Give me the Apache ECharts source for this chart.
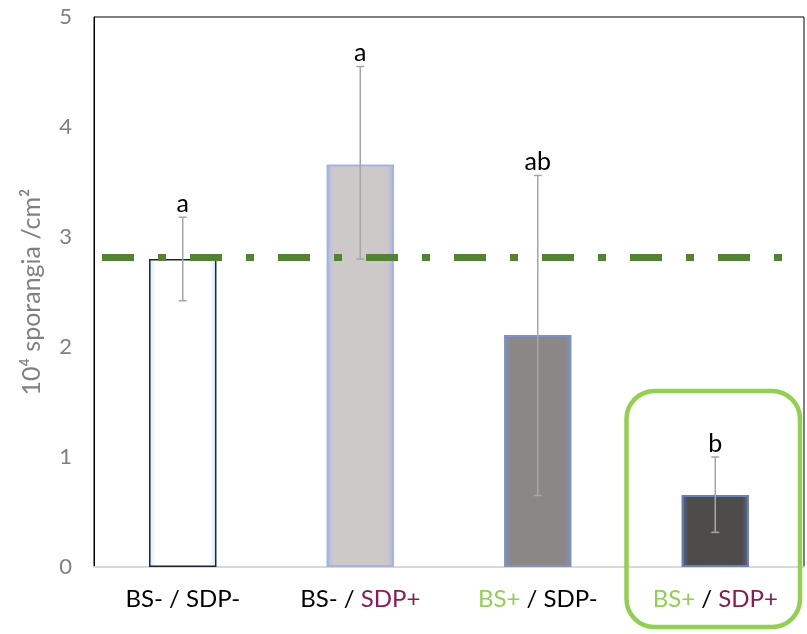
<!DOCTYPE html>
<html><head><meta charset="utf-8">
<script src="https://cdn.jsdelivr.net/npm/echarts@6/dist/echarts.min.js"></script>
<style>html,body{margin:0;padding:0;background:#fff}#c{width:807px;height:634px}</style>
</head><body><div id="c"></div>
<script>
const categories = ['BS- / SDP-', 'BS- / SDP+', 'BS+ / SDP-', 'BS+ / SDP+'];
const means = [2.80, 3.66, 2.11, 0.655];
const errLow = [2.42, 2.80, 0.65, 0.315];
const errHigh = [3.18, 4.55, 3.56, 1.00];
const letters = ['a', 'a', 'ab', 'b'];
const refLine = 2.82;
const yTicks = [0, 1, 2, 3, 4, 5];
const highlighted = 3;

const FONT = 'Lato, "Open Sans", sans-serif';
const barStyles = [
  {fill: ['#cfe6fb', '#ffffff', '#ffffff', '#cfe6fb'], border: '#1b2535', bw: 1.5},
  {fill: ['#a9b7e6', '#cdc9c8', '#cdc9c8', '#a9b7e6'], border: '#a3b3e4', bw: 2},
  {fill: ['#8091bd', '#8a8786', '#8a8786', '#8091bd'], border: '#7f92c2', bw: 2},
  {fill: ['#5c6b92', '#4e4c4b', '#4e4c4b', '#5c6b92'], border: '#6b80b2', bw: 2}
];
function grad(c) {
  return new echarts.graphic.LinearGradient(0, 0, 1, 0, [
    {offset: 0, color: c[0]}, {offset: 0.1, color: c[1]},
    {offset: 0.9, color: c[2]}, {offset: 1, color: c[3]}]);
}

function catLabel(v) {
  const parts = v.split(' / ');
  const a = parts[0].indexOf('+') >= 0 ? '{g|' + parts[0] + '}' : '{k|' + parts[0] + '}';
  const b = parts[1].indexOf('+') >= 0 ? '{p|' + parts[1] + '}' : '{k|' + parts[1] + '}';
  return a + '{k| / }' + b;
}

const chart = echarts.init(document.getElementById('c'), null, {renderer: 'canvas'});
const option = {
  animation: false,
  grid: {left: 94, right: 3, top: 17, bottom: 67, show: true, borderColor: '#000', borderWidth: 1, backgroundColor: 'transparent'},
  xAxis: {
    type: 'category', data: categories,
    axisLine: {lineStyle: {color: '#d9d9d9', width: 2}},
    axisTick: {show: false},
    axisLabel: {
      margin: 20, formatter: catLabel,
      rich: {
        k: {color: '#000', fontSize: 24, fontFamily: FONT},
        g: {color: '#92d050', fontSize: 24, fontFamily: FONT},
        p: {color: '#8b1a53', fontSize: 24, fontFamily: FONT}
      }
    }
  },
  yAxis: {
    type: 'value', min: yTicks[0], max: yTicks[yTicks.length - 1], interval: 1,
    name: '10\u2074 sporangia /cm\u00b2', nameLocation: 'middle', nameGap: 50,
    nameTextStyle: {color: '#808080', fontSize: 25, fontFamily: FONT},
    axisLine: {show: true, lineStyle: {color: '#000', width: 1}},
    axisTick: {show: false},
    splitLine: {show: false},
    axisLabel: {color: '#808080', fontSize: 22, fontFamily: FONT, margin: 22}
  },
  series: [
    {
      type: 'bar', barWidth: '38%',
      data: means.map((v, i) => ({value: v, itemStyle: {color: grad(barStyles[i].fill), borderColor: barStyles[i].border, borderWidth: barStyles[i].bw}})),
      markLine: {
        silent: true, symbol: 'none', label: {show: false},
        lineStyle: {color: '#548235', width: 7, type: [32, 24, 8, 24], dashOffset: -8, cap: 'butt'},
        data: [{yAxis: refLine}]
      },
      z: 2
    },
    {
      type: 'custom', z: 5,
      data: categories.map((c, i) => [i, errLow[i], errHigh[i]]),
      renderItem: function (params, api) {
        const i = api.value(0);
        const lo = api.coord([i, api.value(1)]);
        const hi = api.coord([i, api.value(2)]);
        const cap = 4;
        const st = {stroke: '#a6a6a6', lineWidth: 1.5};
        return {
          type: 'group', children: [
            {type: 'line', shape: {x1: lo[0], y1: lo[1], x2: hi[0], y2: hi[1]}, style: st},
            {type: 'line', shape: {x1: lo[0] - cap, y1: lo[1], x2: lo[0] + cap, y2: lo[1]}, style: st},
            {type: 'line', shape: {x1: hi[0] - cap, y1: hi[1], x2: hi[0] + cap, y2: hi[1]}, style: st},
            {type: 'text', style: {text: letters[params.dataIndex], x: hi[0], y: hi[1] - 1, textAlign: 'center', textVerticalAlign: 'bottom', fill: '#000', fontSize: 25, fontFamily: FONT}}
          ]
        };
      }
    }
  ]
};
chart.setOption(option);

// green rounded highlight box around the last category, positioned from the axis
const c0 = chart.convertToPixel({xAxisIndex: 0}, highlighted);
const c1 = chart.convertToPixel({xAxisIndex: 0}, highlighted - 1);
const band = c0 - c1;
const yTop = chart.convertToPixel({yAxisIndex: 0}, 1.6);
chart.setOption({
  graphic: [{
    type: 'rect', z: 10,
    shape: {x: c0 - band * 0.5, y: yTop, width: band - 4, height: 627 - yTop, r: 28},
    style: {fill: 'none', stroke: '#92d050', lineWidth: 4.5}
  }]
});
</script></body></html>
